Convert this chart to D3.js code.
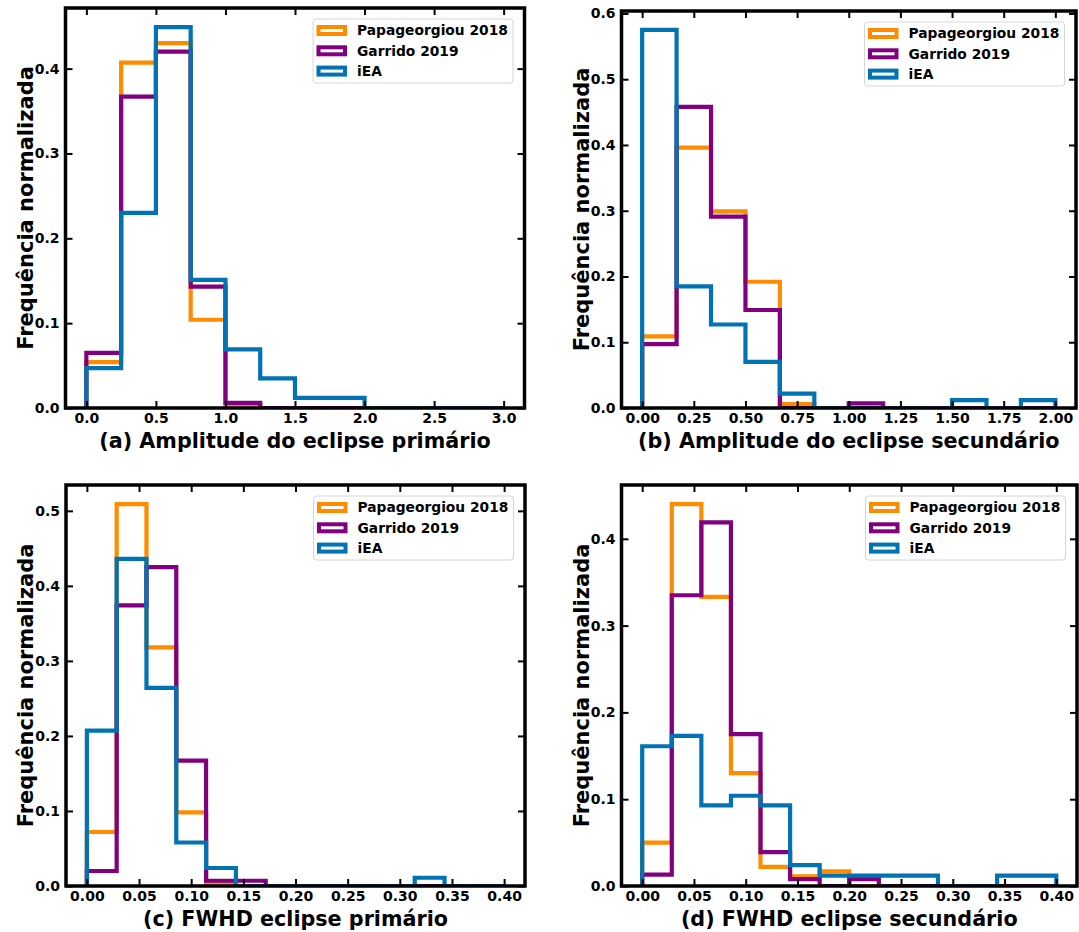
<!DOCTYPE html>
<html>
<head>
<meta charset="utf-8">
<script src="https://cdn.jsdelivr.net/npm/d3@7"></script>
<style>
  html, body { margin: 0; padding: 0; background: #ffffff; }
  svg { display: block; font-family: "DejaVu Sans", sans-serif; font-weight: bold; }
</style>
</head>
<body>
<svg id="chart" width="1079" height="932"></svg>
<script>
// ---- series names and colours ----
const seriesNames = ["Papageorgiou 2018", "Garrido 2019", "iEA"];
const seriesColors = ["#ff8c00", "#800080", "#0173b2"];

// ---- (a) primary eclipse amplitude ----
const edgesA = [0, 0.25, 0.5, 0.75, 1.0, 1.25, 1.5, 1.75, 2.0, 2.25, 2.5, 2.75, 3.0];
const papA = [0.054, 0.407, 0.430, 0.104, 0.004, 0, 0, 0, 0, 0, 0, 0];
const garA = [0.065, 0.367, 0.420, 0.143, 0.006, 0, 0, 0, 0, 0, 0, 0];
const ieaA = [0.047, 0.230, 0.449, 0.151, 0.069, 0.035, 0.012, 0.012, 0, 0, 0, 0];
const xTicksA = [0, 0.5, 1.0, 1.5, 2.0, 2.5, 3.0];
const yTicksA = [0, 0.1, 0.2, 0.3, 0.4];

// ---- (b) secondary eclipse amplitude ----
const edgesB = [0, 0.1667, 0.3333, 0.5, 0.6667, 0.8333, 1.0, 1.1667, 1.3333, 1.5, 1.6667, 1.8333, 2.0];
const papB = [0.109, 0.396, 0.299, 0.192, 0.006, 0, 0, 0, 0, 0, 0, 0];
const garB = [0.097, 0.458, 0.291, 0.149, 0, 0, 0.007, 0, 0, 0, 0, 0];
const ieaB = [0.575, 0.185, 0.127, 0.070, 0.022, 0, 0, 0, 0, 0.012, 0, 0.012];
const xTicksB = [0, 0.25, 0.5, 0.75, 1.0, 1.25, 1.5, 1.75, 2.0];
const yTicksB = [0, 0.1, 0.2, 0.3, 0.4, 0.5, 0.6];

// ---- (c), (d) FWHD bins ----
const edgesFWHD = [0, 0.02857, 0.05714, 0.08571, 0.11429, 0.14286, 0.17143, 0.2,
                   0.22857, 0.25714, 0.28571, 0.31429, 0.34286, 0.37143, 0.4];
const xTicksFWHD = [0, 0.05, 0.1, 0.15, 0.2, 0.25, 0.3, 0.35, 0.4];

// ---- (c) primary eclipse FWHD ----
const papC = [0.072, 0.509, 0.318, 0.098, 0.004, 0, 0, 0, 0, 0, 0, 0, 0, 0];
const garC = [0.020, 0.374, 0.425, 0.167, 0.007, 0.007, 0, 0, 0, 0, 0, 0, 0, 0];
const ieaC = [0.207, 0.436, 0.264, 0.058, 0.024, 0, 0, 0, 0, 0, 0, 0.011, 0, 0];
const yTicksC = [0, 0.1, 0.2, 0.3, 0.4, 0.5];

// ---- (d) secondary eclipse FWHD ----
const papD = [0.050, 0.440, 0.333, 0.130, 0.022, 0.011, 0.017, 0, 0, 0, 0, 0, 0, 0];
const garD = [0.013, 0.335, 0.419, 0.175, 0.039, 0.008, 0, 0.008, 0, 0, 0, 0, 0, 0];
const ieaD = [0.161, 0.173, 0.093, 0.104, 0.093, 0.024, 0.012, 0.012, 0.012, 0.012, 0, 0, 0.012, 0.012];
const yTicksD = [0, 0.1, 0.2, 0.3, 0.4];

const yLabel = "Frequência normalizada";

const panels = [
  { id: "a", frame: { l: 65.5, r: 524.5, t: 8, b: 408 }, edges: edgesA, series: [papA, garA, ieaA],
    xTicks: xTicksA, xFmt: d3.format(".1f"), yTicks: yTicksA, xLabel: "(a) Amplitude do eclipse primário" },
  { id: "b", frame: { l: 621.5, r: 1076, t: 11, b: 408 }, edges: edgesB, series: [papB, garB, ieaB],
    xTicks: xTicksB, xFmt: d3.format(".2f"), yTicks: yTicksB, xLabel: "(b) Amplitude do eclipse secundário" },
  { id: "c", frame: { l: 66, r: 525, t: 485, b: 886 }, edges: edgesFWHD, series: [papC, garC, ieaC],
    xTicks: xTicksFWHD, xFmt: d3.format(".2f"), yTicks: yTicksC, xLabel: "(c) FWHD eclipse primário" },
  { id: "d", frame: { l: 621.5, r: 1077, t: 485, b: 886 }, edges: edgesFWHD, series: [papD, garD, ieaD],
    xTicks: xTicksFWHD, xFmt: d3.format(".2f"), yTicks: yTicksD, xLabel: "(d) FWHD eclipse secundário" }
];

const svg = d3.select("#chart");
const TICK = 7;

panels.forEach(p => {
  const f = p.frame;
  const lo = p.edges[0], hi = p.edges[p.edges.length - 1];
  const pad = (hi - lo) * 0.05;
  const yMax = d3.max(p.series, s => d3.max(s)) * 1.05;

  const x = d3.scaleLinear().domain([lo - pad, hi + pad]).range([f.l, f.r]);
  const y = d3.scaleLinear().domain([0, yMax]).range([f.b, f.t]);

  const g = svg.append("g").attr("class", "panel-" + p.id);

  g.append("clipPath").attr("id", "clip-" + p.id)
    .append("rect").attr("x", f.l).attr("y", f.t).attr("width", f.r - f.l).attr("height", f.b - f.t);

  // step outlines of each histogram
  const line = d3.line().x(d => x(d[0])).y(d => y(d[1]));
  p.series.forEach((vals, si) => {
    const pts = [[p.edges[0], 0]];
    vals.forEach((v, i) => { pts.push([p.edges[i], v]); pts.push([p.edges[i + 1], v]); });
    pts.push([p.edges[p.edges.length - 1], 0]);
    g.append("path")
      .attr("clip-path", "url(#clip-" + p.id + ")")
      .attr("d", line(pts))
      .attr("fill", "none")
      .attr("stroke", seriesColors[si])
      .attr("stroke-width", 4.2)
      .attr("stroke-linejoin", "miter");
  });

  // axes: inward ticks on all four sides
  const styleAxis = sel => {
    sel.select(".domain").remove();
    sel.selectAll(".tick line").attr("stroke", "#000").attr("stroke-width", 2);
    sel.selectAll(".tick text").attr("fill", "#000").style("font-size", "14px")
      .style("font-weight", "bold").style("font-family", "'DejaVu Sans', sans-serif");
  };
  g.append("g").attr("transform", `translate(0,${f.b})`)
    .call(d3.axisBottom(x).tickValues(p.xTicks).tickFormat(p.xFmt).tickSize(-TICK).tickPadding(5))
    .call(styleAxis);
  g.append("g").attr("transform", `translate(0,${f.t})`)
    .call(d3.axisTop(x).tickValues(p.xTicks).tickFormat("").tickSize(-TICK))
    .call(styleAxis);
  g.append("g").attr("transform", `translate(${f.l},0)`)
    .call(d3.axisLeft(y).tickValues(p.yTicks).tickFormat(d3.format(".1f")).tickSize(-TICK).tickPadding(6))
    .call(styleAxis);
  g.append("g").attr("transform", `translate(${f.r},0)`)
    .call(d3.axisRight(y).tickValues(p.yTicks).tickFormat("").tickSize(-TICK))
    .call(styleAxis);

  // frame
  g.append("rect")
    .attr("x", f.l).attr("y", f.t).attr("width", f.r - f.l).attr("height", f.b - f.t)
    .attr("fill", "none").attr("stroke", "#000").attr("stroke-width", 3.5);

  // axis titles
  g.append("text")
    .attr("x", (f.l + f.r) / 2).attr("y", f.b + 40)
    .attr("text-anchor", "middle").style("font-size", "20.7px")
    .text(p.xLabel);
  g.append("text")
    .attr("transform", `translate(${f.l - 33},${(f.t + f.b) / 2}) rotate(-90)`)
    .attr("text-anchor", "middle").style("font-size", "21px")
    .text(yLabel);

  // legend
  const lw = 200, lh = 64;
  const lx = f.r - 11.5 - lw, ly = f.t + 11;
  const lg = g.append("g").attr("transform", `translate(${lx},${ly})`);
  lg.append("rect").attr("width", lw).attr("height", lh).attr("rx", 3)
    .attr("fill", "#fff").attr("fill-opacity", 0.8)
    .attr("stroke", "#d6d6d6").attr("stroke-width", 1);
  seriesNames.forEach((name, i) => {
    const cy = 11.5 + i * 20.3;
    lg.append("rect").attr("x", 5.5).attr("y", cy - 3.5).attr("width", 26.5).attr("height", 7)
      .attr("fill", "#fff").attr("stroke", seriesColors[i]).attr("stroke-width", 4);
    lg.append("text").attr("x", 44).attr("y", cy + 4.8)
      .style("font-size", "13.8px").text(name);
  });
});
</script>
</body>
</html>
